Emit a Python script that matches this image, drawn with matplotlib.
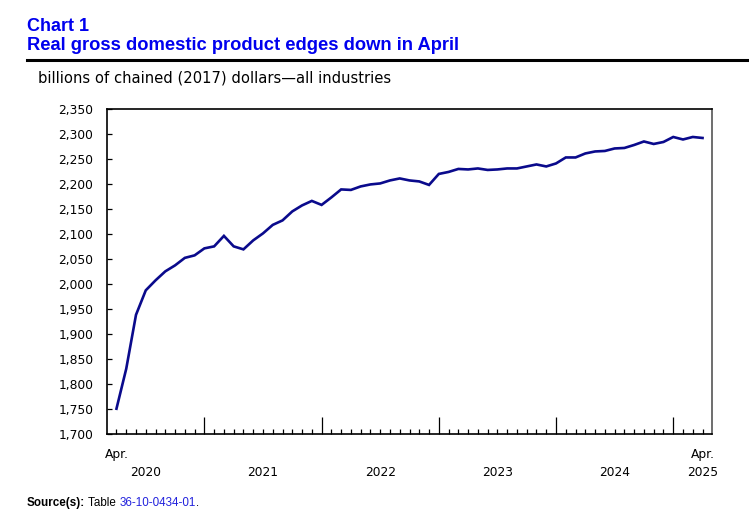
import numpy as np
import matplotlib
matplotlib.use("Agg")
import matplotlib.pyplot as plt

# monthly real GDP, Apr. 2020 .. Apr. 2025 (billions of chained 2017 dollars)
gdp = [1750, 1830, 1938, 1987, 2007, 2025, 2037, 2052, 2057, 2071,
       2075, 2096, 2075, 2069, 2087, 2101, 2118, 2127, 2145, 2157,
       2166, 2158, 2173, 2189, 2188, 2195, 2199, 2201, 2207, 2211,
       2207, 2205, 2198, 2220, 2224, 2230, 2229, 2231, 2228, 2229,
       2231, 2231, 2235, 2239, 2235, 2241, 2253, 2253, 2261, 2265,
       2266, 2271, 2272, 2278, 2285, 2280, 2284, 2294, 2289, 2294,
       2292]
years = ["2020", "2021", "2022", "2023", "2024"]
year_pos = [3, 15, 27, 39, 51]      # July of each year
jan_pos = [9, 21, 33, 45, 57]
yticks = list(range(1700, 2351, 50))

months = np.arange(len(gdp))

fig = plt.figure(figsize=(7.49, 5.17), dpi=100)
ax = fig.add_axes([106.7 / 749, 1 - 433.7 / 517, (712.3 - 106.7) / 749, (433.7 - 109) / 517])

ax.plot(months, gdp, color="#0a0a8c", lw=1.9, solid_joinstyle="miter")

ax.set_xlim(-1, 61)
ax.set_ylim(1700, 2350)
ax.set_yticks(yticks)
ax.set_yticklabels([f"{v:,}" for v in yticks], fontsize=8.8, family="DejaVu Sans")
ax.tick_params(axis="y", direction="in", length=3.4, width=0.9, pad=9.6)

minor = [m for m in months if m not in jan_pos]
ax.set_xticks(jan_pos)
ax.set_xticks(minor, minor=True)
ax.set_xticklabels([])
ax.tick_params(axis="x", which="major", direction="in", length=12.5, width=0.9)
ax.tick_params(axis="x", which="minor", direction="in", length=3.8, width=0.9)

for s in ["left", "bottom", "top"]:
    ax.spines[s].set_color("black")
    ax.spines[s].set_linewidth(1.2)
ax.spines["right"].set_color("#555555")
ax.spines["right"].set_linewidth(1.2)

tr = ax.get_xaxis_transform()
for i in [0, 60]:
    ax.annotate("Apr.", xy=(i, 0), xycoords=tr, xytext=(0, -21), textcoords="offset pixels",
                ha="center", va="center", fontsize=8.8, family="DejaVu Sans")
for yr, p in zip(years + ["2025"], year_pos + [60]):
    ax.annotate(yr, xy=(p, 0), xycoords=tr, xytext=(0, -39), textcoords="offset pixels",
                ha="center", va="center", fontsize=8.8, family="DejaVu Sans")

# titles
fig.text(27 / 749, 1 - 27 / 517, "Chart 1", color="#0000ee", fontsize=13, fontweight="bold",
         family="Liberation Sans", ha="left", va="center")
fig.text(27 / 749, 1 - 46 / 517, "Real gross domestic product edges down in April", color="#0000ee",
         fontsize=13.2, fontweight="bold", family="Liberation Sans", ha="left", va="center")
fig.add_artist(plt.Line2D([27 / 749, 1], [1 - 60 / 517] * 2, color="black", lw=2.2))
fig.text(38 / 749, 1 - 78 / 517, "billions of chained (2017) dollars\u2014all industries",
         fontsize=10.6, family="DejaVu Sans", ha="left", va="center")

# source line
fs = 8.35
t = fig.text(27 / 749, 1 - 503 / 517, "Source(s):", fontsize=fs, fontweight="bold",
             family="Liberation Sans", ha="left", va="center")
fig.canvas.draw()
bb = t.get_window_extent()
t2 = fig.text(bb.x1 / 749 + 3 / 749, 1 - 503 / 517, "Table ", fontsize=fs,
              family="Liberation Sans", ha="left", va="center")
fig.canvas.draw()
bb2 = t2.get_window_extent()
t3 = fig.text(bb2.x1 / 749, 1 - 503 / 517, "36-10-0434-01", fontsize=fs, color="#2222dd",
              family="Liberation Sans", ha="left", va="center")
fig.canvas.draw()
bb3 = t3.get_window_extent()
fig.text(bb3.x1 / 749, 1 - 503 / 517, ".", fontsize=fs, family="Liberation Sans",
         ha="left", va="center")

fig.savefig("out.png", dpi=100)
